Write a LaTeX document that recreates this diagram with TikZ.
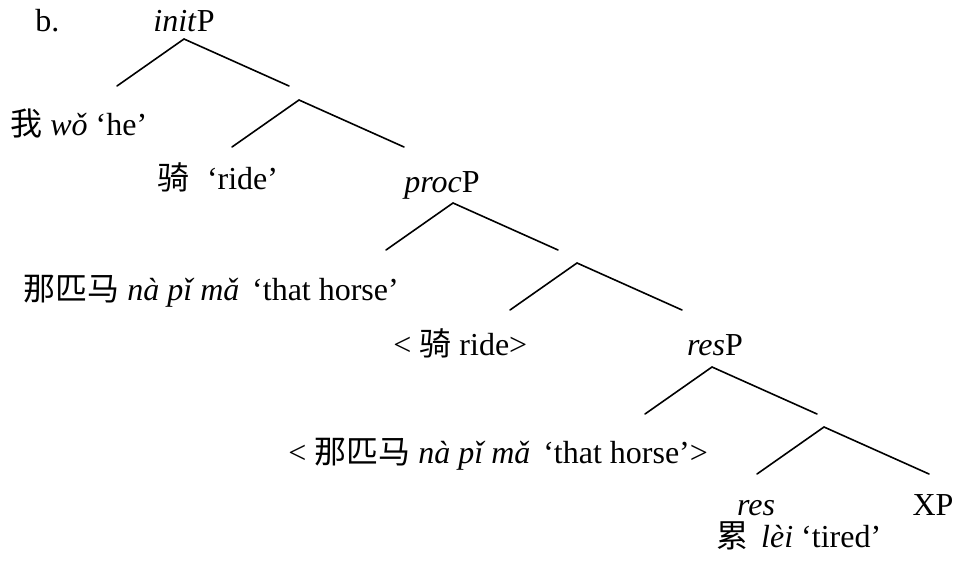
\documentclass[tikz,border=0pt]{standalone}
\usepackage{fontspec}
\setmainfont{Liberation Serif}
\newfontfamily\cjk{Noto Sans CJK SC}
\begin{document}
\begin{tikzpicture}[
        x=0.5pt, y=-0.5pt,
        every node/.style={font=\fontsize{16}{19}\selectfont, inner sep=0pt},
        cat/.style={anchor=base},
        lbl/.style={anchor=base west},
        br/.style={line width=0.8pt, line cap=round}
    ]
    \useasboundingbox (0,0) rectangle (956,561);

    % 分枝 (顶点 x, y)
    \foreach \n/\x/\y in {init/184/39, initbar/299/100, proc/453/203,
                          procbar/577/263, res/712/367, resbar/824/427} {
        \coordinate (\n) at (\x,\y);
        \coordinate (\n-l) at (\x-67,\y+47);
        \coordinate (\n-r) at (\x+105,\y+47);
        \draw[br] (\n-l) -- (\n) -- (\n-r);
    }

    % 标签
    \node[lbl] (ex) at (35,32) {b.};
    \node[cat] (initP) at (184,32) {\textit{init}P};
    \node[lbl] (wo) at (10,136) {{\cjk 我} \textit{wǒ} ‘he’};
    \node[lbl] (qi) at (157,190) {{\cjk 骑}\hspace{0.55em}‘ride’};
    \node[cat] (procP) at (442,192) {\textit{proc}P};
    \node[lbl] (horse) at (23,300) {{\cjk 那匹马} \textit{nà pǐ mǎ}\hspace{0.4em}‘that horse’};
    \node[lbl] (qitr) at (393,355) {< {\cjk 骑} ride>};
    \node[cat] (resP) at (715,355) {\textit{res}P};
    \node[lbl] (horsetr) at (288,463) {< {\cjk 那匹马} \textit{nà pǐ mǎ}\hspace{0.4em}‘that horse’>};
    \node[cat] (reshead) at (756,515) {\textit{res}};
    \node[cat] (XP) at (933,515) {XP};
    \node[lbl] (lei) at (716,547) {{\cjk 累}\hspace{0.4em}\textit{lèi} ‘tired’};
\end{tikzpicture}
\end{document}
